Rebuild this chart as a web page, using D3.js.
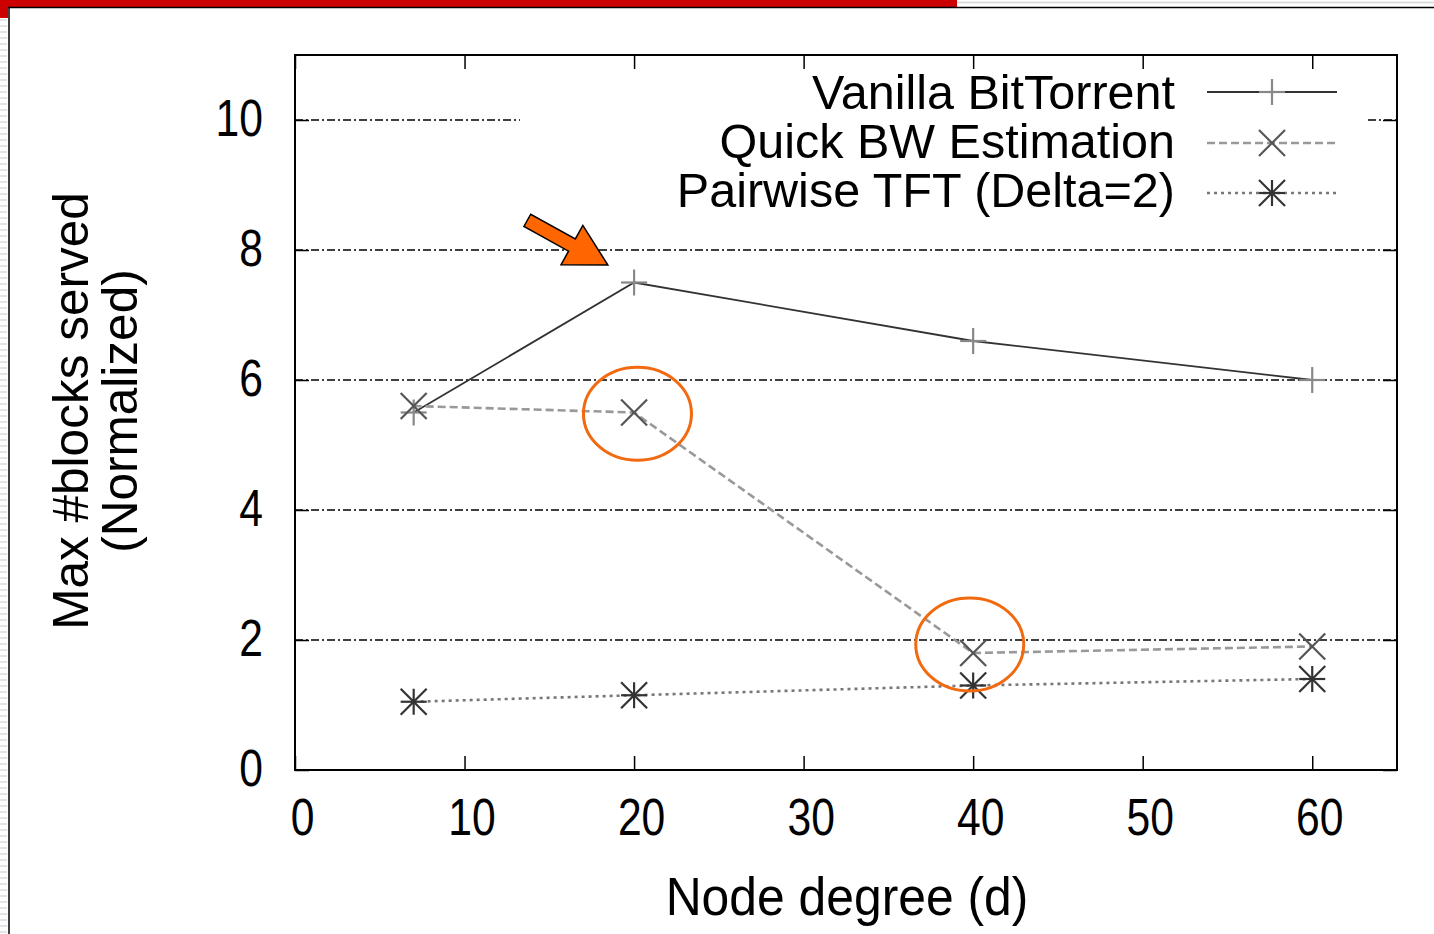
<!DOCTYPE html>
<html><head><meta charset="utf-8">
<script src="https://cdn.jsdelivr.net/npm/d3@7"></script>
<style>body{margin:0;background:#fff;} svg{display:block;}</style>
</head><body><svg id="c" width="1434" height="934"></svg>
<script>
const degrees = [7, 20, 40, 60];
const vanilla = [5.5, 7.5, 6.6, 6.0];
const quickBW = [5.6, 5.5, 1.8, 1.9];
const pairwise = [1.05, 1.15, 1.3, 1.4];
const seriesNames = ["Vanilla BitTorrent", "Quick BW Estimation", "Pairwise TFT (Delta=2)"];
const xTicks = [0, 10, 20, 30, 40, 50, 60];
const yTicks = [0, 2, 4, 6, 8, 10];
const highlightCenters = [[20.2, 5.48], [39.8, 1.93]];
const arrowTarget = [18.45, 7.77];

const svg = d3.select("#c");
const font = "Liberation Sans, Arial, sans-serif";
const L = 295, R = 1397, T = 55, B = 770;
const x = d3.scaleLinear().domain([0, 65]).range([L, R]);
const y = d3.scaleLinear().domain([0, 11]).range([B, T]);

// slide decoration
svg.append("rect").attr("x",0).attr("y",0).attr("width",957).attr("height",7).attr("fill","#cc0000");
svg.append("rect").attr("x",0).attr("y",0).attr("width",8).attr("height",18).attr("fill","#cc0000");
svg.append("line").attr("x1",957).attr("x2",1434).attr("y1",2.5).attr("y2",2.5).attr("stroke","#ddd").attr("stroke-width",2);
svg.append("line").attr("x1",8).attr("x2",1434).attr("y1",7.5).attr("y2",7.5).attr("stroke","#000").attr("stroke-width",1.5);
svg.append("line").attr("x1",9).attr("x2",9).attr("y1",7).attr("y2",934).attr("stroke","#000").attr("stroke-width",1.5);
for (let yy = 20; yy < 934; yy += 6) svg.append("line").attr("x1",0).attr("x2",7).attr("y1",yy).attr("y2",yy).attr("stroke","#e4e4e4").attr("stroke-width",2);

// grid lines (dash-dot)
const gridDash = "8,3,2,3";
function grid(v, x1, x2) {
  svg.append("line").attr("x1",x1).attr("x2",x2).attr("y1",y(v)).attr("y2",y(v))
    .attr("stroke","#000").attr("stroke-width",1.3).attr("stroke-dasharray",gridDash);
}
yTicks.filter(v => v > 0).forEach(v => {
  if (v === 10) { grid(v, L, 520); grid(v, 1368, R); }
  else grid(v, L, R);
});

// axes
const tl = 14, sx = 0.82;
const ax = svg.append("g").attr("transform",`translate(0,${B})`).call(d3.axisBottom(x).tickValues(xTicks).tickSize(-tl).tickPadding(28));
const axT = svg.append("g").attr("transform",`translate(0,${T})`).call(d3.axisTop(x).tickValues(xTicks).tickSize(-tl).tickFormat(""));
const ay = svg.append("g").attr("transform",`translate(${L},0)`).call(d3.axisLeft(y).tickValues(yTicks).tickSize(-tl).tickPadding(30));
const ayR = svg.append("g").attr("transform",`translate(${R},0)`).call(d3.axisRight(y).tickValues(yTicks).tickSize(-tl).tickFormat(""));
[ax, axT, ay, ayR].forEach(g => {
  g.select(".domain").remove();
  g.selectAll(".tick line").attr("stroke","#000").attr("stroke-width",1.5);
  g.selectAll("text").attr("font-family",font).attr("font-size",52).attr("fill","#000");
});
ax.selectAll("text").attr("transform",`scale(${sx},1)`).attr("x", 7/sx).attr("dy","0.71em");
ay.selectAll("text").attr("transform",`scale(${sx},1)`).attr("x", -32/sx).attr("dy","0.29em");
svg.append("rect").attr("x",L).attr("y",T).attr("width",R-L).attr("height",B-T).attr("fill","none").attr("stroke","#000").attr("stroke-width",2);

// axis titles
svg.append("text").attr("transform","translate(847,915) scale(0.94,1)").attr("text-anchor","middle").attr("font-family",font).attr("font-size",53).text("Node degree (d)");
const yt = svg.append("text").attr("transform","translate(0,411) rotate(-90)").attr("text-anchor","middle").attr("font-family",font).attr("font-size",49.5);
yt.append("tspan").attr("x",0).attr("y",88).text("Max #blocks served");
yt.append("tspan").attr("x",0).attr("y",137).text("(Normalized)");

// markers
function marker(g, type, cx, cy, color) {
  const s = 13;
  const add = (x1,y1,x2,y2) => g.append("line").attr("x1",cx+x1).attr("y1",cy+y1).attr("x2",cx+x2).attr("y2",cy+y2).attr("stroke",color).attr("stroke-width",2.2);
  if (type === "plus") { add(-s,0,s,0); add(0,-s,0,s); }
  if (type === "cross") { add(-s,-s,s,s); add(-s,s,s,-s); }
  if (type === "star") { add(-s,0,s,0); add(0,-s,0,s); add(-s,-s,s,s); add(-s,s,s,-s); }
}

const series = [
  {name: seriesNames[0], vals: vanilla, color:"#333", dash:null, w:1.8, mk:"plus", mc:"#888"},
  {name: seriesNames[1], vals: quickBW, color:"#999", dash:"8,4", w:2.6, mk:"cross", mc:"#555"},
  {name: seriesNames[2], vals: pairwise, color:"#777", dash:"3,4", w:2.6, mk:"star", mc:"#333"}
];
const line = d3.line().x(d => x(d[0])).y(d => y(d[1]));
series.forEach(s => {
  const pts = degrees.map((d,i) => [d, s.vals[i]]);
  svg.append("path").attr("d", line(pts)).attr("fill","none").attr("stroke",s.color).attr("stroke-width",s.w).attr("stroke-dasharray",s.dash);
  const g = svg.append("g");
  pts.forEach(p => marker(g, s.mk, x(p[0]), y(p[1]), s.mc));
});

// legend
const lineY = [92, 143, 193];
const textY = [109, 158, 207];
series.forEach((s,i) => {
  svg.append("text").attr("x",1175).attr("y",textY[i]).attr("text-anchor","end").attr("font-family",font).attr("font-size",48.5).text(s.name);
  svg.append("line").attr("x1",1207).attr("x2",1337).attr("y1",lineY[i]).attr("y2",lineY[i]).attr("stroke",s.color).attr("stroke-width",s.w).attr("stroke-dasharray",s.dash);
  marker(svg.append("g"), s.mk, 1272, lineY[i], s.mc);
});

// annotations
highlightCenters.forEach(h => {
  svg.append("ellipse").attr("cx",x(h[0])).attr("cy",y(h[1])).attr("rx",54).attr("ry",46.5).attr("fill","none").attr("stroke","#f26a10").attr("stroke-width",3);
});
const tip = [x(arrowTarget[0]), y(arrowTarget[1])];
const arrowPts = [[0,0],[-41,-22.5],[-41,-7],[-92,-7],[-92,7],[-41,7],[-41,22.5]];
svg.append("polygon")
  .attr("points", arrowPts.map(p => p.join(",")).join(" "))
  .attr("transform", `translate(${tip[0]},${tip[1]}) rotate(29)`)
  .attr("fill","#ff6600").attr("stroke","#000").attr("stroke-width",1.5).attr("stroke-linejoin","miter");
</script></body></html>
